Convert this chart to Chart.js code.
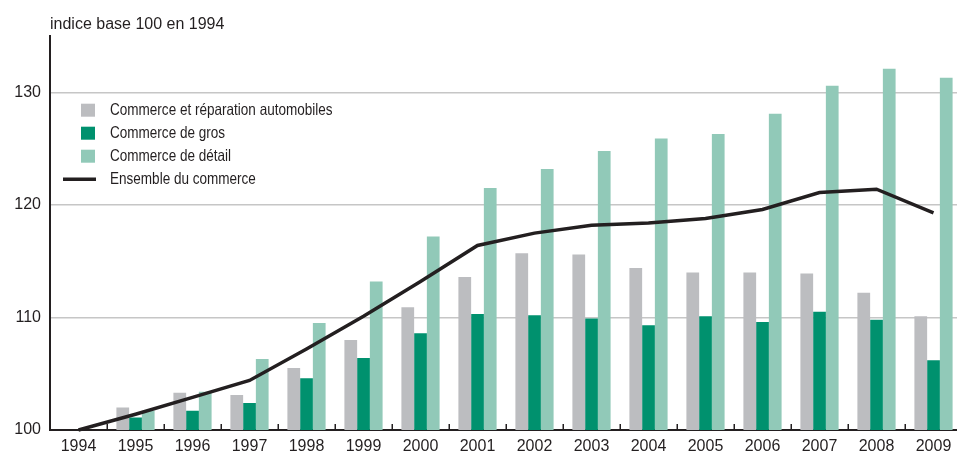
<!DOCTYPE html>
<html>
<head>
<meta charset="utf-8">
<script src="https://cdn.jsdelivr.net/npm/chart.js@4.4.1/dist/chart.umd.min.js"></script>
<style>
  html, body { margin: 0; padding: 0; background: #ffffff; overflow: hidden; }
  #wrap { position: relative; width: 962px; height: 452px; }
</style>
</head>
<body>
<div id="wrap"><canvas id="c"></canvas></div>
<script>
const years = ['1994','1995','1996','1997','1998','1999','2000','2001','2002','2003','2004','2005','2006','2007','2008','2009'];
const automobiles = [100, 102.0, 103.3, 103.1, 105.5, 108.0, 110.9, 113.6, 115.7, 115.6, 114.4, 114.0, 114.0, 113.9, 112.2, 110.1];
const gros = [100, 101.1, 101.7, 102.4, 104.6, 106.4, 108.6, 110.3, 110.2, 109.9, 109.3, 110.1, 109.6, 110.5, 109.8, 106.2];
const detail = [100, 101.7, 103.4, 106.3, 109.5, 113.2, 117.2, 121.5, 123.2, 124.8, 125.9, 126.3, 128.1, 130.6, 132.1, 131.3];
const ensemble = [100, 101.4, 102.9, 104.4, 107.2, 110.1, 113.2, 116.4, 117.5, 118.2, 118.4, 118.8, 119.6, 121.1, 121.4, 119.3];
const yTicks = [100, 110, 120, 130];
const labels = ['Commerce et réparation automobiles', 'Commerce de gros', 'Commerce de détail', 'Ensemble du commerce'];
const titleText = 'indice base 100 en 1994';

const INK = '#231f20';
const REG = "'Liberation Sans', Arial, sans-serif";

const legendPlugin = {
  id: 'insideLegend',
  afterDraw(chart) {
    const ctx = chart.ctx;
    const ca = chart.chartArea;
    const rowTop = [74, 97, 120, 143];
    ctx.save();
    ctx.textBaseline = 'middle';
    chart.data.datasets.forEach((ds) => {
      const cy = ca.top + rowTop[ds.legendRow];
      if (ds.type === 'line') {
        ctx.strokeStyle = ds.borderColor;
        ctx.lineWidth = 3.5;
        ctx.beginPath();
        ctx.moveTo(ca.left + 13, cy);
        ctx.lineTo(ca.left + 46, cy);
        ctx.stroke();
      } else {
        ctx.fillStyle = ds.backgroundColor;
        ctx.fillRect(ca.left + 31, cy - 6.5, 14, 13);
      }
      ctx.save();
      ctx.translate(ca.left + 60, cy + 0.5);
      ctx.scale(0.82, 1);
      ctx.font = '16.5px ' + REG;
      ctx.fillStyle = INK;
      ctx.fillText(ds.label, 0, 0);
      ctx.restore();
    });
    ctx.restore();
  }
};

const tickMarks = {
  id: 'tickMarks',
  afterDatasetsDraw(chart) {
    const xs = chart.scales.x;
    const ctx = chart.ctx;
    const n = xs.ticks.length;
    const step = (xs.right - xs.left) / n;
    ctx.save();
    ctx.strokeStyle = INK;
    ctx.lineWidth = 1.5;
    for (let i = 1; i < n; i++) {
      const x = Math.round(xs.left + i * step) + 0.25;
      ctx.beginPath();
      ctx.moveTo(x, xs.top);
      ctx.lineTo(x, xs.top - 6);
      ctx.stroke();
    }
    ctx.restore();
  }
};

new Chart(document.getElementById('c'), {
  type: 'bar',
  data: {
    labels: years,
    datasets: [
      { type: 'line', label: labels[3], data: ensemble, borderColor: INK, backgroundColor: INK,
        borderWidth: 3.5, pointRadius: 0, tension: 0, order: 0, clip: 6, legendRow: 3 },
      { label: labels[0], data: automobiles, backgroundColor: '#bcbdc0', order: 1, legendRow: 0 },
      { label: labels[1], data: gros, backgroundColor: '#00916e', order: 1, legendRow: 1 },
      { label: labels[2], data: detail, backgroundColor: '#91c9b8', order: 1, legendRow: 2 }
    ]
  },
  options: {
    responsive: true,
    maintainAspectRatio: false,
    animation: false,
    datasets: { bar: { categoryPercentage: 0.67, barPercentage: 1.0 } },
    layout: { padding: { left: 0, right: 0, top: 0, bottom: 0 } },
    plugins: {
      legend: { display: false },
      tooltip: { enabled: false },
      title: {
        display: true, text: titleText, align: 'start', fullSize: false,
        color: INK, font: { family: REG, size: 16, weight: 'normal', lineHeight: 1.2 },
        padding: { top: 15, bottom: 2 }
      }
    },
    scales: {
      x: {
        offset: true,
        afterFit: (scale) => { scale.height = 22; },
        grid: { display: true, drawOnChartArea: false, drawTicks: false, color: 'rgba(0,0,0,0)' },
        border: { display: true, color: INK, width: 2 },
        ticks: { color: INK, font: { family: REG, size: 16, lineHeight: 1.2 }, padding: 7, autoSkip: false, maxRotation: 0 }
      },
      y: {
        min: 100, max: 135,
        afterBuildTicks: (scale) => { scale.ticks = yTicks.map(v => ({ value: v })); },
        afterFit: (scale) => { scale.width = 50; },
        grid: {
          drawTicks: false,
          color: (c) => (c.tick && c.tick.value === 100) ? 'rgba(0,0,0,0)' : '#c6c6c6',
          lineWidth: 1.5
        },
        border: { display: true, color: INK, width: 2 },
        ticks: { color: INK, font: { family: REG, size: 16 }, padding: 9 }
      }
    }
  },
  plugins: [legendPlugin, tickMarks]
});
</script>
</body>
</html>
